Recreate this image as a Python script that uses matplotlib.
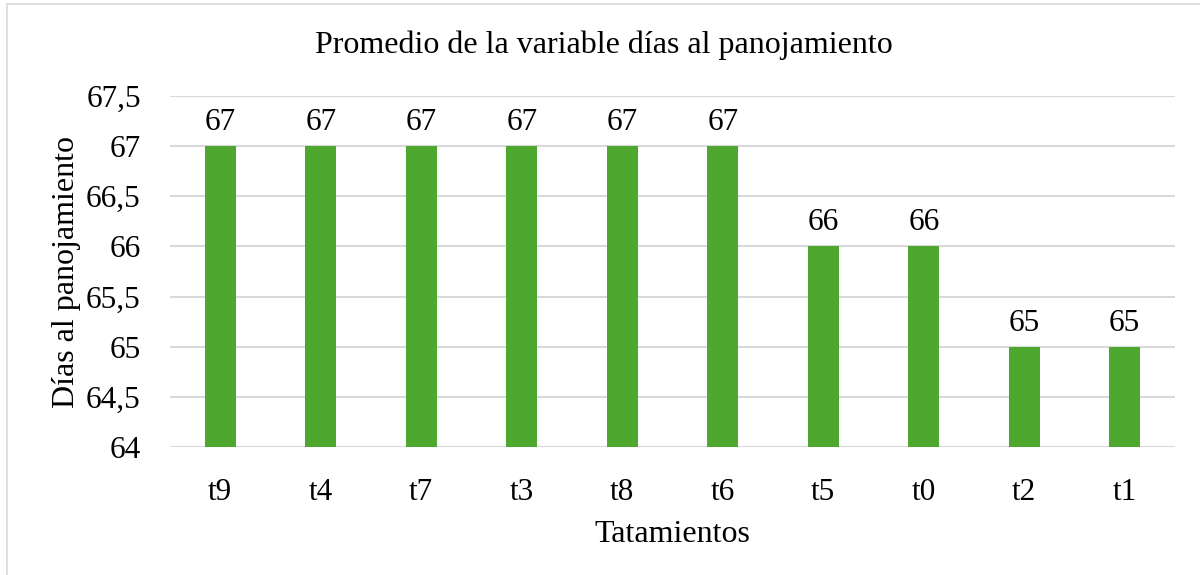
import matplotlib
matplotlib.use("Agg")
import matplotlib.pyplot as plt
from matplotlib.patches import Rectangle

categories = ["t9", "t4", "t7", "t3", "t8", "t6", "t5", "t0", "t2", "t1"]
values = [67, 67, 67, 67, 67, 67, 66, 66, 65, 65]
yticks = [64, 64.5, 65, 65.5, 66, 66.5, 67, 67.5]
ytick_labels = ["64", "64,5", "65", "65,5", "66", "66,5", "67", "67,5"]

plt.rcParams['font.family'] = ['Liberation Serif', 'DejaVu Serif']

fig = plt.figure(figsize=(12, 5.75), dpi=100)
ax = fig.add_axes([170/1200, 1 - 447/575, (1175-170)/1200, (447-96)/575])

x = list(range(len(categories)))
ax.bar(x, [v - 64 for v in values], bottom=64, width=0.31, color="#4EA72E", zorder=3)
for xi, v in zip(x, values):
    ax.annotate(f"{v}", (xi, v), xytext=(0, 6.5), textcoords="offset points",
                ha="center", va="bottom", fontsize=22.5)

ax.set_xlim(-0.5, len(categories) - 0.5)
ax.set_ylim(64, 67.5)
ax.set_yticks(yticks)
ax.set_yticklabels(ytick_labels)
ax.set_xticks(x)
ax.set_xticklabels(categories)
ax.tick_params(axis="both", length=0, labelsize=22.5)
ax.tick_params(axis="y", pad=21)
ax.tick_params(axis="x", pad=22)
ax.grid(axis="y", color="#D9D9D9", linewidth=1.5, zorder=0)
for s in ax.spines.values():
    s.set_visible(False)

ax.set_xlabel("Tatamientos", fontsize=23, labelpad=10)
ax.set_ylabel("Días al panojamiento", fontsize=23, labelpad=4)
fig.text(0.503, 1 - 45/575, "Promedio de la variable días al panojamiento",
         ha="center", va="center", fontsize=23)

fig.patches.append(Rectangle((7/1200, -0.1), 1.2, 1 - 4/575 + 0.1, transform=fig.transFigure,
                             fill=False, edgecolor="#D9D9D9", linewidth=1.2))

fig.savefig("out.png", dpi=100)
